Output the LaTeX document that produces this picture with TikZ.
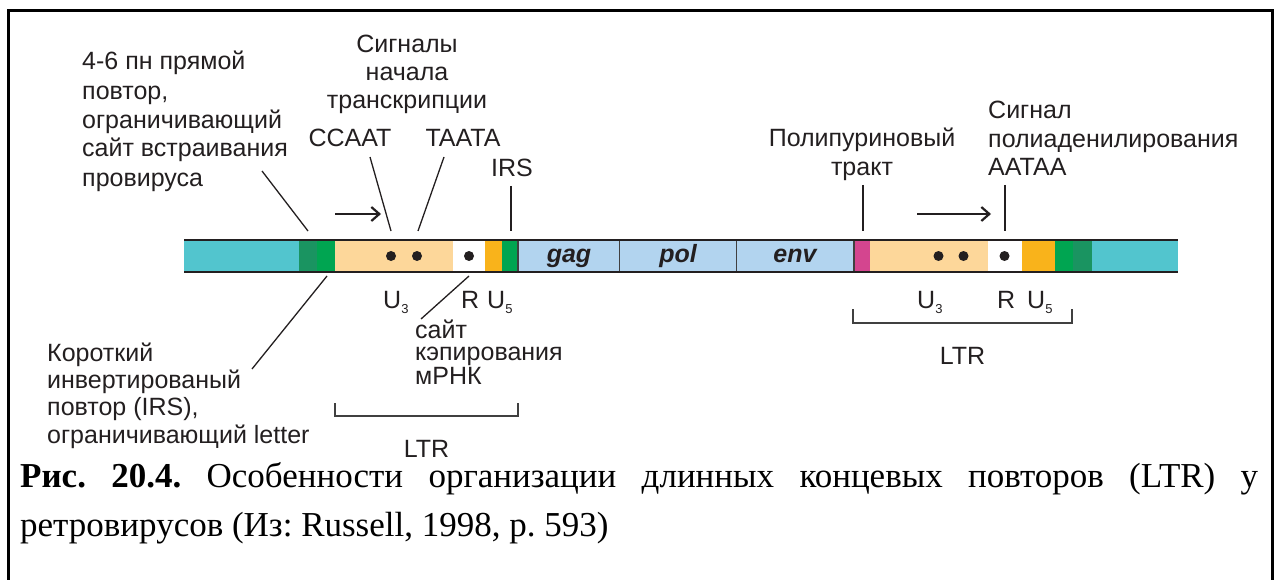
\documentclass[tikz,border=0pt]{standalone}
\usepackage{fontspec}
\setmainfont{Liberation Sans}
\newfontfamily\capfont{Liberation Serif}
\usetikzlibrary{arrows.meta}
\definecolor{cyanc}{HTML}{52C5CE}
\definecolor{dgreen}{HTML}{1A9461}
\definecolor{mgreen}{HTML}{00A551}
\definecolor{lorange}{HTML}{FDD79A}
\definecolor{orangec}{HTML}{F9B31B}
\definecolor{lblue}{HTML}{B2D4EF}
\definecolor{magc}{HTML}{D4458F}
\definecolor{ink}{HTML}{231F20}
\newcommand{\subs}[1]{\raisebox{-5pt}{\fontsize{13}{13}\selectfont #1}}
\begin{document}
\begin{tikzpicture}[x=1pt,y=-1pt,
  lbl/.style={inner sep=0pt, font=\fontsize{25}{29}\selectfont, text=ink},
  gene/.style={inner sep=0pt, font=\fontsize{25}{29}\selectfont\bfseries\itshape, text=ink},
  lead/.style={line width=1.3pt, draw=ink},
  bracketline/.style={line width=1.3pt, draw=black!75},
  dirarrow/.style={line width=2.2pt, draw=ink, -{Straight Barb[length=8pt,width=14pt,line width=2.2pt]}},
  dot/.style={fill=ink},
  divider/.style={line width=1.5pt, draw=black!75}
]
\useasboundingbox (0,0) rectangle (1276,580);
% frame
\draw[line width=3pt, line join=miter] (8.5,580) -- (8.5,10.5) -- (1272.5,10.5) -- (1272.5,580);

% bar segments
\fill[cyanc]   (184,240) rectangle (299,272);
\fill[dgreen]  (299,240) rectangle (317,272);
\fill[mgreen]  (317,240) rectangle (335,272);
\fill[lorange] (335,240) rectangle (453,272);
\fill[white]   (453,240) rectangle (485,272);
\fill[orangec] (485,240) rectangle (502,272);
\fill[mgreen]  (502,240) rectangle (518,272);
\fill[lblue]   (518,240) rectangle (854,272);
\fill[magc]    (854,240) rectangle (870,272);
\fill[lorange] (870,240) rectangle (988,272);
\fill[white]   (988,240) rectangle (1022,272);
\fill[orangec] (1022,240) rectangle (1055,272);
\fill[mgreen]  (1055,240) rectangle (1073,272);
\fill[dgreen]  (1073,240) rectangle (1092,272);
\fill[cyanc]   (1092,240) rectangle (1178,272);
\draw[divider] (518,240) -- (518,272);
\draw[divider] (619.5,240) -- (619.5,272);
\draw[divider] (736.5,240) -- (736.5,272);
\draw[divider] (854,240) -- (854,272);
\draw[line width=2.5pt, draw=ink] (184,240) -- (1178,240);
\draw[line width=2.5pt, draw=ink] (184,272) -- (1178,272);

% genes
\node[gene, anchor=base] (gag) at (569,262) {gag};
\node[gene, anchor=base] (pol) at (678,262) {pol};
\node[gene, anchor=base] (env) at (795,262) {env};

% dots
\fill[dot] (391,256) circle (5pt);
\fill[dot] (417,256) circle (5pt);
\fill[dot] (469,256) circle (5pt);
\fill[dot] (938.5,256) circle (5pt);
\fill[dot] (963.5,256) circle (5pt);
\fill[dot] (1004.5,256) circle (5pt);

% upper labels (base anchor = baseline of the last line)
\node[lbl, align=left, anchor=base west] (direct) at (82,186) {4-6 пн прямой\\повтор,\\ограничивающий\\сайт встраивания\\провируса};
\node[lbl, align=center, anchor=base, font=\fontsize{25}{28}\selectfont] (signals) at (407,109) {Сигналы\\начала\\транскрипции};
\node[lbl, anchor=base] (ccaat) at (350,147) {CCAAT};
\node[lbl, anchor=base] (taata) at (463,147) {TAATA};
\node[lbl, anchor=base] (irs) at (512,177) {IRS};
\node[lbl, align=center, anchor=base] (ppt) at (862,176) {Полипуриновый\\тракт};
\node[lbl, align=left, anchor=base west, font=\fontsize{25}{28.5}\selectfont] (polya) at (988,176) {Сигнал\\полиаденилирования\\AATAA};

% upper leaders
\coordinate (dA) at (262,171); \coordinate (bA) at (308,231);
\coordinate (cA) at (370,157); \coordinate (bC) at (391,231);
\coordinate (tA) at (444,157); \coordinate (bT) at (418,231);
\coordinate (iA) at (511,186); \coordinate (bI) at (511,231);
\coordinate (pA) at (863,185); \coordinate (bP) at (863,231);
\coordinate (aA) at (1005,185); \coordinate (bAA) at (1005,231);
\draw[lead] (dA) -- (bA);
\draw[lead] (cA) -- (bC);
\draw[lead] (tA) -- (bT);
\draw[lead] (iA) -- (bI);
\draw[lead] (pA) -- (bP);
\draw[lead] (aA) -- (bAA);

% direction arrows
\coordinate (ar1s) at (335,214); \coordinate (ar1e) at (381,214);
\coordinate (ar2s) at (917,214); \coordinate (ar2e) at (991,214);
\draw[dirarrow] (ar1s) -- (ar1e);
\draw[dirarrow] (ar2s) -- (ar2e);

% U3 R U5 labels
\node[lbl, anchor=base west] (u3a) at (383,308) {U\subs{3}};
\node[lbl, anchor=base west] (ra) at (461,308) {R};
\node[lbl, anchor=base west] (u5a) at (487,308) {U\subs{5}};
\node[lbl, anchor=base west] (u3b) at (917,308) {U\subs{3}};
\node[lbl, anchor=base west] (rb) at (997,308) {R};
\node[lbl, anchor=base west] (u5b) at (1027,308) {U\subs{5}};

% lower labels
\node[lbl, align=left, anchor=base west, font=\fontsize{25}{22}\selectfont] (cap) at (415,384) {сайт\\кэпирования\\мРНК};
\node[lbl, align=left, anchor=base west, font=\fontsize{25}{27.2}\selectfont] (short) at (47,443) {Короткий\\инвертированый\\повтор (IRS),\\ограничивающий letter};

% lower leaders
\coordinate (bS) at (327,276); \coordinate (sA) at (252,369);
\coordinate (bR) at (469,276); \coordinate (rA) at (421,319);
\draw[lead] (bS) -- (sA);
\draw[lead] (bR) -- (rA);

% LTR brackets
\draw[bracketline] (335,403) -- (335,416) -- (518,416) -- (518,403);
\draw[bracketline] (853,309) -- (853,323) -- (1072,323) -- (1072,309);
\node[lbl, anchor=base] (ltr1) at (426.5,457) {LTR};
\node[lbl, anchor=base] (ltr2) at (962.5,364) {LTR};

% caption (text-width node: base anchor = first line)
\node[anchor=base west, inner sep=0pt, text width=1238pt, align=justify,
      font=\capfont\fontsize{35}{49}\selectfont] (caption) at (20,487)
  {\frenchspacing\textbf{Рис.\ 20.4.}\ Особенности организации длинных концевых повторов (LTR) у\linebreak ретровирусов (Из: Russell, 1998, p.~593)};
\end{tikzpicture}
\end{document}
